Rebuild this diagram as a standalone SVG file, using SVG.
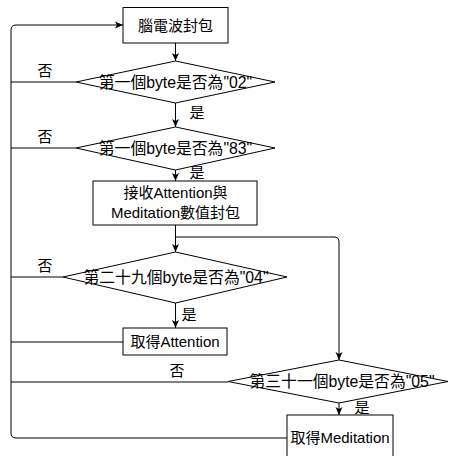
<svg xmlns="http://www.w3.org/2000/svg" width="450" height="456" viewBox="0 0 450 456">
<style>
.n{fill:#fff;stroke:#000;stroke-width:1}
.c{fill:none;stroke:#000;stroke-width:1}
text{font-family:"Liberation Sans","Noto Sans CJK TC",sans-serif;font-size:15px;fill:#000;text-anchor:middle;dominant-baseline:central}
.d{font-size:15.8px}
</style>
<defs>
<marker id="ah" markerUnits="userSpaceOnUse" markerWidth="8" markerHeight="8" viewBox="0 0 8 8" refX="8" refY="4" orient="auto">
<path d="M0,0.5 L8,4 L0,7.5 L2,4 z" fill="#000"/>
</marker>
</defs>
<rect width="450" height="456" fill="#fff"/>
<g id="connectors">
<path class="c" d="M287,438 L16,438 Q11,438 11,433 L11,30 Q11,25 16,25 L123,25" marker-end="url(#ah)"/>
<path class="c" d="M76,82 L11,82"/>
<path class="c" d="M76,148 L11,148"/>
<path class="c" d="M63,277 L11,277"/>
<path class="c" d="M123,342 L11,342"/>
<path class="c" d="M228,382 L11,382"/>
<path class="c" d="M175.5,43 L175.5,61" marker-end="url(#ah)"/>
<path class="c" d="M175.5,103 L175.5,127" marker-end="url(#ah)"/>
<path class="c" d="M175.5,170 L175.5,181" marker-end="url(#ah)"/>
<path class="c" d="M175.5,225 L175.5,252" marker-end="url(#ah)"/>
<path class="c" d="M175.5,237 L334,237 Q339,237 339,242 L339,360" marker-end="url(#ah)"/>
<path class="c" d="M175.5,303 L175.5,328" marker-end="url(#ah)"/>
<path class="c" d="M339,403 L339,415" marker-end="url(#ah)"/>
<text x="45" y="70">否</text>
<text x="45" y="136">否</text>
<text x="45" y="265">否</text>
<text x="177" y="370">否</text>
<text x="197" y="112">是</text>
<text x="197" y="172">是</text>
<text x="189" y="314">是</text>
<text x="362" y="407">是</text>
</g>
<g id="box1">
<rect class="n" x="123" y="7.5" width="105" height="35.5"/>
<text x="175.5" y="25">腦電波封包</text>
</g>
<g id="dec1">
<polygon class="n" points="175.5,61 275,82 175.5,103 76,82"/>
<text class="d" x="175.5" y="82">第一個byte是否為"02"</text>
</g>
<g id="dec2">
<polygon class="n" points="175.5,127 275,148 175.5,170 76,148"/>
<text class="d" x="175.5" y="148">第一個byte是否為"83"</text>
</g>
<g id="box2">
<rect class="n" x="93" y="181" width="164" height="44"/>
<text x="175.5" y="192">接收Attention與</text>
<text x="175.5" y="212">Meditation數值封包</text>
</g>
<g id="dec3">
<polygon class="n" points="175.5,252 287,277 175.5,303 63,277"/>
<text class="d" x="176" y="277">第二十九個byte是否為"04"</text>
</g>
<g id="box3">
<rect class="n" x="123" y="328" width="104" height="27"/>
<text x="175" y="341.5">取得Attention</text>
</g>
<g id="dec4">
<polygon class="n" points="339,360 448,381.5 339,403 228,381.5"/>
<text class="d" x="342" y="381.5">第三十一個byte是否為"05"</text>
</g>
<g id="box4">
<rect class="n" x="287" y="415" width="106" height="45"/>
<text x="340" y="437">取得Meditation</text>
</g>
</svg>
